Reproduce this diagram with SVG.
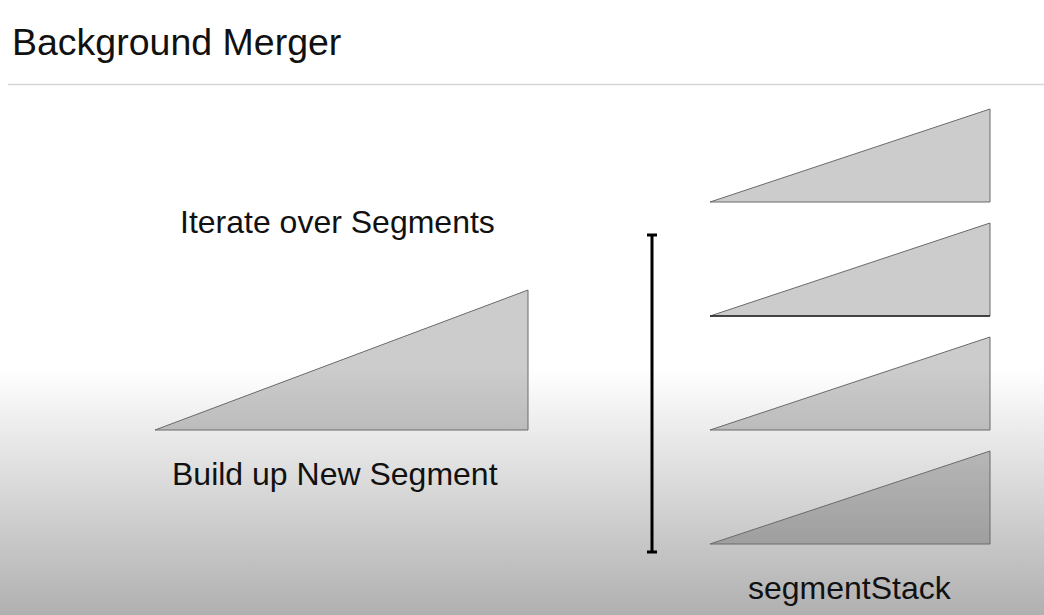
<svg xmlns="http://www.w3.org/2000/svg" width="1044" height="615" viewBox="0 0 1044 615">
  <defs>
    <linearGradient id="bg" x1="0" y1="0" x2="0" y2="615" gradientUnits="userSpaceOnUse">
      <stop offset="0" stop-color="#ffffff"/>
      <stop offset="0.6" stop-color="#ffffff"/>
      <stop offset="1" stop-color="#b0b0b0"/>
    </linearGradient>
  </defs>
  <style>
    .txt { font-family: "Liberation Sans", Arial, sans-serif; fill: #111; }
    .seg { fill: #000; fill-opacity: 0.2; stroke: #6a6a6a; stroke-width: 1; stroke-linejoin: miter; }
    .bar { stroke: #000; stroke-width: 3; fill: none; }
  </style>
  <rect x="0" y="0" width="1044" height="615" fill="url(#bg)"/>
  <g id="title">
    <text class="txt" x="12" y="55" font-size="37.5">Background Merger</text>
    <line x1="8" y1="84.5" x2="1044" y2="84.5" stroke="#d6d6d6" stroke-width="1.5"/>
  </g>
  <g id="iterate-label">
    <text class="txt" x="180" y="233" font-size="32">Iterate over Segments</text>
  </g>
  <g id="new-segment">
    <polygon class="seg" points="155,430 528,290 528,430"/>
    <text class="txt" x="172" y="485" font-size="32">Build up New Segment</text>
  </g>
  <g id="connectors">
    <g id="iterate-bar" class="bar">
      <line x1="652" y1="235" x2="652" y2="552"/>
      <line x1="647" y1="235" x2="657" y2="235"/>
      <line x1="647" y1="552" x2="657" y2="552"/>
    </g>
  </g>
  <g id="segment-1">
    <polygon class="seg" points="710,202 990,109 990,202"/>
  </g>
  <g id="segment-2">
    <polygon class="seg" points="710,316 990,223 990,316"/>
    <line x1="710" y1="316" x2="990" y2="316" stroke="#222" stroke-width="1.5"/>
  </g>
  <g id="segment-3">
    <polygon class="seg" points="710,430 990,337 990,430"/>
  </g>
  <g id="segment-4">
    <polygon class="seg" points="710,544 990,451 990,544"/>
  </g>
  <g id="segmentStack-label">
    <text class="txt" x="748" y="599" font-size="32">segmentStack</text>
  </g>
</svg>
